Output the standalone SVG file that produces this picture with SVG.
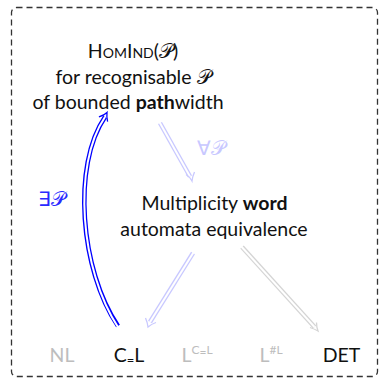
<svg xmlns="http://www.w3.org/2000/svg" width="379" height="378" viewBox="0 0 379 378">
<style>
text{font-family:Lato,"Liberation Sans",sans-serif;font-size:19.5px;fill:#111}
.b{font-weight:bold}
.cal{font-family:"DejaVu Serif","DejaVu Sans",serif;font-style:normal}
.mid{text-anchor:middle}
.gr{fill:#bdbdbd}
.outer{fill:none;stroke-linecap:butt}
.inner{fill:none;stroke:#fff;stroke-width:2}
</style>
<rect x="11.5" y="7.5" width="366" height="369" rx="5" fill="none" stroke="#333" stroke-width="1.3" stroke-dasharray="6 4"/>
<g id="connectors">
  <g id="exists">
    <path class="outer" d="M118,326 C80,270 72,165 105,117" stroke="#0000ff" stroke-width="4.6"/>
    <path class="inner" d="M118.5,328 C80,270 72,165 105,117"/>
    <path d="M98.9,116.8 Q104,115.5 107,112.5 Q106.5,117 107.6,121.6" fill="none" stroke="#0000ff" stroke-width="1.3"/>
    <text x="38" y="206" style="fill:#2a2aff">∃<tspan class="cal">𝒫</tspan></text>
  </g>
  <g id="forall">
    <path class="outer" d="M160,123 L190,176.5" stroke="#c8c8ff" stroke-width="4.6"/>
    <path class="inner" d="M158,119.5 L190,176.5"/>
    <path d="M186,174.5 Q190,177 192,181 Q192.5,176.5 194.5,172" fill="none" stroke="#c8c8ff" stroke-width="1.3"/>
    <text x="197" y="155" style="fill:#c8c8ff">∀<tspan class="cal">𝒫</tspan></text>
  </g>
  <g id="to-ceql">
    <path class="outer" d="M193,253 L150,322" stroke="#c8c8ff" stroke-width="4.6"/>
    <path class="inner" d="M195,250 L150,322"/>
    <path d="M145.5,318 Q147.5,322.5 148,327 Q151.5,324 156,322.5" fill="none" stroke="#c8c8ff" stroke-width="1.3"/>
  </g>
  <g id="to-det">
    <path class="outer" d="M242,247 L314.5,327" stroke="#d4d4d4" stroke-width="4.6"/>
    <path class="inner" d="M240,245 L314.5,327"/>
    <path d="M310,327.5 Q314.5,329 318,331 Q316.5,327 316.5,322.5" fill="none" stroke="#d4d4d4" stroke-width="1.3"/>
  </g>
</g>
<g id="homind">
  <text class="mid" x="133" y="58"><tspan style="font-variant:small-caps">HomInd</tspan>(<tspan class="cal">𝒫</tspan>)</text>
  <text class="mid" x="133" y="84">for recognisable <tspan class="cal">𝒫</tspan></text>
  <text class="mid" x="128" y="109">of bounded <tspan class="b">path</tspan>width</text>
</g>
<g id="mwa">
  <text class="mid" x="214.5" y="210">Multiplicity <tspan class="b">word</tspan></text>
  <text class="mid" x="214" y="236">automata equivalence</text>
</g>
<g id="nl"><text class="mid gr" x="62" y="362">NL</text></g>
<g id="ceql"><text class="mid" x="129" y="362">C<tspan font-size="13" dy="3">=</tspan><tspan dy="-3">L</tspan></text></g>
<g id="lceql"><text class="mid gr" x="197" y="362">L<tspan font-size="12" dy="-8">C<tspan dy="2">=</tspan><tspan dy="-2">L</tspan></tspan></text></g>
<g id="lsharpl"><text class="mid gr" x="271" y="362">L<tspan font-size="12" dy="-8">#L</tspan></text></g>
<g id="det"><text class="mid" x="341.5" y="362">DET</text></g>
</svg>
